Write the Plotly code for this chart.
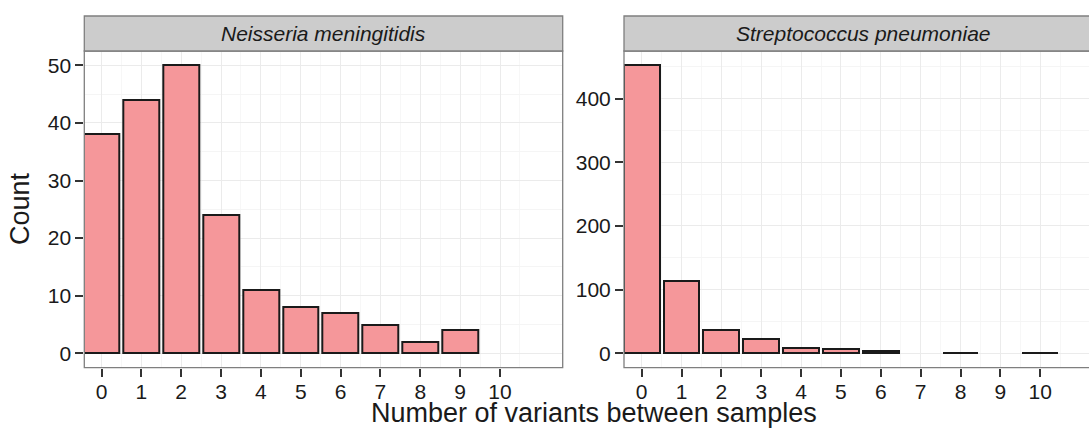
import plotly.graph_objects as go

# ---- data ----
variants = [0, 1, 2, 3, 4, 5, 6, 7, 8, 9, 10]
nm_counts = [38, 44, 50, 24, 11, 8, 7, 5, 2, 4, 0]
sp_counts = [452, 113, 37, 22, 8, 6, 3, 0, 1, 0, 1]
panel_titles = ["Neisseria meningitidis", "Streptococcus pneumoniae"]
x_ticks = list(range(11))
nm_yticks = [0, 10, 20, 30, 40, 50]
sp_yticks = [0, 100, 200, 300, 400]

W, H = 1089, 429
FONT = "Liberation Sans, Arial, Helvetica, sans-serif"
TXT = "#1a1a1a"
BAR = "#F5979A"

def px_x(p):
    return p / W

def px_y(p):
    return (H - p) / H

# panel geometry (pixels)
L1, R1 = 84.3, 562.7
L2, R2 = 624.0, 1089.0
TOP, BOT = 51.0, 367.7
STRIP_TOP = 16.0
unit = 39.85  # px per x unit

fig = go.Figure()

def bar_trace(y, xa, ya):
    xs = [v for v, c in zip(variants, y) if c > 0]
    ys = [c for c in y if c > 0]
    return go.Bar(x=xs, y=ys, width=0.9, xaxis=xa, yaxis=ya,
                  marker=dict(color=BAR, line=dict(color=TXT, width=2)),
                  showlegend=False)

fig.add_trace(bar_trace(nm_counts, "x", "y"))
fig.add_trace(bar_trace(sp_counts, "x2", "y2"))

axis_common = dict(
    showline=False, zeroline=False, ticks="outside", ticklen=8, tickwidth=1.6,
    tickcolor="#333333", tickfont=dict(family=FONT, size=21, color=TXT),
    showgrid=True, gridcolor="#ebebeb", gridwidth=1,
)

def yrange(vals):
    m = max(vals)
    return [-0.05 * m, 1.05 * m]

x1_lo = -(101.5 - L1) / unit
x1_hi = (R1 - 101.5) / unit
x2_lo = -(641.7 - L2) / unit
x2_hi = (R2 - 641.7) / unit

fig.update_layout(
    width=W, height=H, margin=dict(l=0, r=0, t=0, b=0),
    paper_bgcolor="white", plot_bgcolor="white", bargap=0,
    xaxis=dict(domain=[px_x(L1), px_x(R1)], range=[x1_lo, x1_hi], anchor="y",
               tickvals=x_ticks, ticktext=[str(v) for v in x_ticks],
               minor=dict(tickvals=[v + 0.5 for v in range(11)], showgrid=True, gridcolor="#f7f7f7", ticks=""),
               ticklabelstandoff=-3,
               **axis_common),
    yaxis=dict(domain=[px_y(BOT), px_y(TOP)], range=yrange(nm_counts), anchor="x",
               tickvals=nm_yticks,
               minor=dict(tickvals=[5, 15, 25, 35, 45], showgrid=True, gridcolor="#f5f5f5", ticks=""),
               ticklabelstandoff=0,
               **axis_common),
    xaxis2=dict(domain=[px_x(L2), 1.0], range=[x2_lo, x2_hi], anchor="y2",
                tickvals=x_ticks, ticktext=[str(v) for v in x_ticks],
                minor=dict(tickvals=[v + 0.5 for v in range(11)], showgrid=True, gridcolor="#f7f7f7", ticks=""),
                ticklabelstandoff=-3,
                **axis_common),
    yaxis2=dict(domain=[px_y(BOT), px_y(TOP)], range=yrange(sp_counts), anchor="x2",
                tickvals=sp_yticks,
                minor=dict(tickvals=[50, 150, 250, 350, 450], showgrid=True, gridcolor="#f5f5f5", ticks=""),
                ticklabelstandoff=0,
                **axis_common),
)

shapes = []
# panel borders
shapes.append(dict(type="rect", xref="paper", yref="paper",
                   x0=px_x(L1), x1=px_x(R1), y0=px_y(BOT), y1=px_y(TOP),
                   line=dict(color="#7f7f7f", width=1.3), fillcolor="rgba(0,0,0,0)", layer="above"))
shapes.append(dict(type="rect", xref="paper", yref="paper",
                   x0=px_x(L2), x1=px_x(1105), y0=px_y(BOT), y1=px_y(TOP),
                   line=dict(color="#7f7f7f", width=1.3), fillcolor="rgba(0,0,0,0)", layer="above"))
# strips
shapes.append(dict(type="rect", xref="paper", yref="paper",
                   x0=px_x(L1), x1=px_x(R1), y0=px_y(TOP), y1=px_y(STRIP_TOP),
                   line=dict(color="#7f7f7f", width=1.3), fillcolor="#cccccc", layer="above"))
shapes.append(dict(type="rect", xref="paper", yref="paper",
                   x0=px_x(L2), x1=px_x(1105), y0=px_y(TOP), y1=px_y(STRIP_TOP),
                   line=dict(color="#7f7f7f", width=1.3), fillcolor="#cccccc", layer="above"))
fig.update_layout(shapes=shapes)

ann = []
ann.append(dict(text="<i>%s</i>" % panel_titles[0], xref="paper", yref="paper",
                x=px_x((L1 + R1) / 2), y=px_y((TOP + STRIP_TOP) / 2), showarrow=False,
                font=dict(family=FONT, size=21, color=TXT), xanchor="center", yanchor="middle"))
ann.append(dict(text="<i>%s</i>" % panel_titles[1], xref="paper", yref="paper",
                x=px_x(863.5), y=px_y((TOP + STRIP_TOP) / 2), showarrow=False,
                font=dict(family=FONT, size=21, color=TXT), xanchor="center", yanchor="middle"))
ann.append(dict(text="Number of variants between samples", xref="paper", yref="paper",
                x=px_x(594), y=px_y(413), showarrow=False,
                font=dict(family=FONT, size=27, color=TXT), xanchor="center", yanchor="middle"))
ann.append(dict(text="Count", xref="paper", yref="paper",
                x=px_x(20), y=px_y(209), showarrow=False, textangle=-90,
                font=dict(family=FONT, size=27, color=TXT), xanchor="center", yanchor="middle"))
fig.update_layout(annotations=ann)

fig.write_html("out.html", config={"displayModeBar": False},
               post_script="document.body.style.margin='0';document.body.style.overflow='hidden';")
